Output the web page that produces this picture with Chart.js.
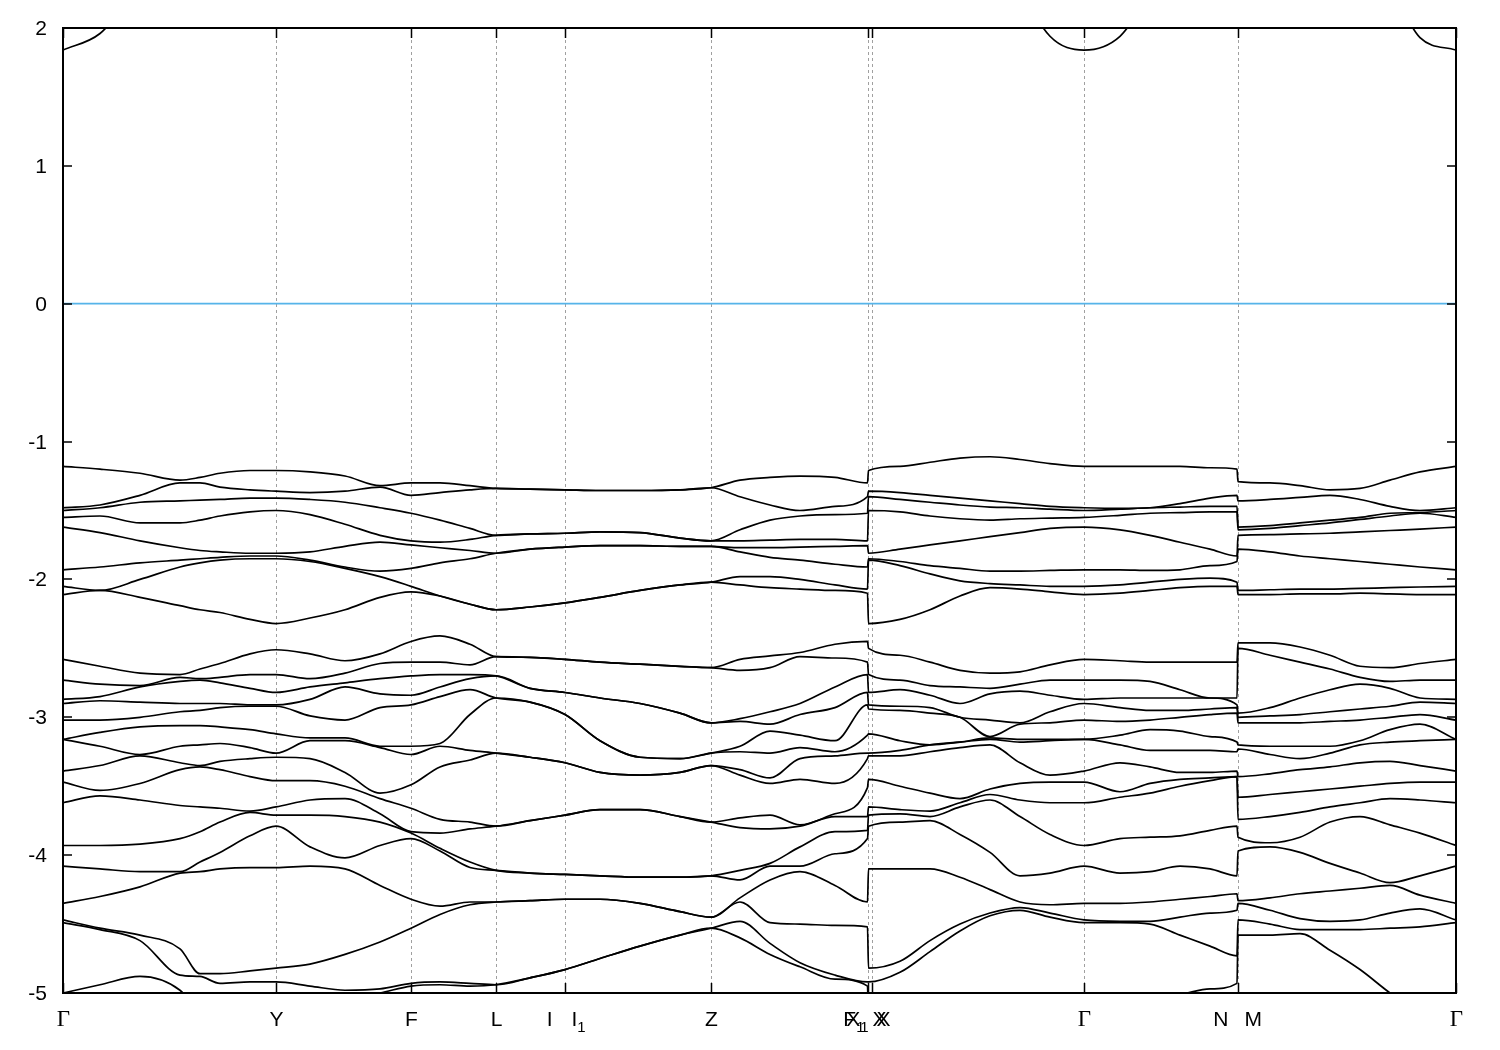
<!DOCTYPE html>
<html>
<head>
<meta charset="utf-8">
<script src="https://cdn.jsdelivr.net/npm/chart.js@4.4.1/dist/chart.umd.min.js"></script>
<style>
  html, body { margin: 0; background: #fff; }
  #wrap { width: 1500px; height: 1050px; }
</style>
</head>
<body>
<div id="wrap"><canvas id="bands"></canvas></div>
<script>
// k-path distance of every sampled point (segments: G-Y-F-L-I|I1-Z-F1, X-G-N, M-G)
const kPath = [
  0, 0.037, 0.077, 0.117, 0.137, 0.157, 0.187, 0.213, 0.247, 0.282, 0.317, 0.348, 0.377,
  0.407, 0.433, 0.467, 0.502, 0.537, 0.577, 0.617, 0.648, 0.677, 0.707, 0.737, 0.772, 0.8045,
  0.8055, 0.837, 0.867, 0.897, 0.927, 0.957, 0.987, 1.021, 1.057, 1.087, 1.117, 1.147, 1.174,
  1.175, 1.207, 1.237, 1.267, 1.297, 1.327, 1.357, 1.393
];
// high-symmetry points and their labels
const highSym = [0, 0.213, 0.348, 0.433, 0.502, 0.648, 0.805, 0.809, 1.021, 1.175, 1.393];
const symNames = ['Γ', 'Y', 'F', 'L', 'I|I1', 'Z', 'F1|X', 'X1|X', 'Γ', 'N|M', 'Γ'];
const yTicks = [2, 1, 0, -1, -2, -3, -4, -5];

// conduction band (eV)
const cond = [1.84, 1.96, 2.3, 2.6, 2.7, 2.8, 2.9, 2.9, 2.9, 2.9, 2.9, 2.9, 2.9, 2.9, 2.9, 2.9, 2.9, 2.9, 2.9, 2.9, 2.9, 2.9, 2.9, 2.9, 2.9, 2.9,
  2.9, 2.9, 2.9, 2.9, 2.8, 2.3, 1.94, 1.84, 1.94, 2.25, 2.6, 2.8, 2.9,
  2.9, 2.9, 2.9, 2.8, 2.6, 2.3, 1.93, 1.84];

// upper valence group
const vb1 = [-1.18,-1.20,-1.23,-1.28,-1.30,-1.33,-1.35,-1.36,-1.37,-1.36,-1.32,-1.30,-1.30,-1.32,-1.34,-1.345,-1.35,-1.355,-1.355,-1.35,-1.335,-1.28,-1.26,-1.25,-1.26,-1.30,
  -1.21,-1.18,-1.15,-1.12,-1.11,-1.13,-1.16,-1.18,-1.18,-1.18,-1.18,-1.19,-1.20,
  -1.29,-1.30,-1.32,-1.35,-1.34,-1.28,-1.22,-1.18];
const vb2 = [-1.55,-1.48,-1.39,-1.30,-1.26,-1.23,-1.21,-1.21,-1.22,-1.25,-1.33,-1.39,-1.37,-1.35,-1.34,-1.345,-1.35,-1.355,-1.355,-1.35,-1.335,-1.40,-1.46,-1.50,-1.47,-1.40,
  -1.36,-1.37,-1.39,-1.41,-1.43,-1.45,-1.47,-1.48,-1.485,-1.48,-1.45,-1.41,-1.39,
  -1.43,-1.42,-1.405,-1.39,-1.42,-1.47,-1.52,-1.55];
const vb3 = [-1.48,-1.46,-1.44,-1.43,-1.425,-1.42,-1.41,-1.41,-1.42,-1.44,-1.48,-1.52,-1.57,-1.63,-1.68,-1.67,-1.665,-1.655,-1.66,-1.70,-1.72,-1.64,-1.57,-1.54,-1.53,-1.52,
  -1.40,-1.42,-1.44,-1.46,-1.475,-1.48,-1.49,-1.50,-1.49,-1.48,-1.475,-1.47,-1.47,
  -1.62,-1.61,-1.59,-1.57,-1.55,-1.52,-1.50,-1.48];
const vb4 = [-1.50,-1.54,-1.59,-1.59,-1.57,-1.54,-1.51,-1.50,-1.53,-1.60,-1.68,-1.75,-1.77,-1.79,-1.81,-1.78,-1.765,-1.755,-1.755,-1.76,-1.76,-1.77,-1.77,-1.765,-1.76,-1.755,
  -1.50,-1.51,-1.54,-1.56,-1.57,-1.56,-1.555,-1.55,-1.535,-1.52,-1.515,-1.51,-1.51,
  -1.64,-1.63,-1.61,-1.59,-1.565,-1.54,-1.515,-1.50];
const vb5 = [-1.62,-1.66,-1.72,-1.77,-1.79,-1.80,-1.81,-1.81,-1.80,-1.76,-1.73,-1.72,-1.73,-1.71,-1.68,-1.67,-1.665,-1.655,-1.66,-1.70,-1.72,-1.72,-1.715,-1.71,-1.71,-1.72,
  -1.81,-1.78,-1.75,-1.72,-1.69,-1.66,-1.63,-1.62,-1.64,-1.68,-1.73,-1.78,-1.83,
  -1.68,-1.675,-1.67,-1.665,-1.655,-1.645,-1.635,-1.62];
const vb6 = [-1.93,-1.91,-1.88,-1.86,-1.85,-1.84,-1.83,-1.83,-1.87,-1.92,-1.94,-1.92,-1.88,-1.85,-1.81,-1.78,-1.765,-1.755,-1.755,-1.76,-1.76,-1.80,-1.84,-1.86,-1.89,-1.91,
  -1.85,-1.87,-1.90,-1.92,-1.94,-1.94,-1.935,-1.93,-1.93,-1.935,-1.93,-1.90,-1.87,
  -1.78,-1.80,-1.83,-1.85,-1.87,-1.89,-1.91,-1.93];
const vb7 = [-2.11,-2.08,-2.00,-1.91,-1.88,-1.86,-1.85,-1.85,-1.86,-1.91,-1.98,-2.05,-2.12,-2.18,-2.22,-2.20,-2.17,-2.13,-2.08,-2.04,-2.02,-1.98,-1.98,-2.00,-2.04,-2.07,
  -1.86,-1.90,-1.96,-2.01,-2.03,-2.04,-2.05,-2.05,-2.04,-2.02,-2.00,-1.99,-2.02,
  -2.08,-2.075,-2.07,-2.07,-2.065,-2.06,-2.055,-2.05];
const vb8 = [-2.05,-2.08,-2.13,-2.19,-2.22,-2.24,-2.29,-2.32,-2.28,-2.22,-2.13,-2.09,-2.12,-2.18,-2.22,-2.20,-2.17,-2.13,-2.08,-2.04,-2.02,-2.04,-2.06,-2.07,-2.08,-2.10,
  -2.32,-2.29,-2.22,-2.12,-2.06,-2.07,-2.09,-2.11,-2.10,-2.08,-2.06,-2.05,-2.05,
  -2.11,-2.11,-2.105,-2.105,-2.10,-2.105,-2.11,-2.11];

// lower valence group
const lb1 = [-2.90,-2.85,-2.78,-2.69,-2.65,-2.61,-2.54,-2.51,-2.54,-2.59,-2.54,-2.45,-2.41,-2.47,-2.56,-2.565,-2.58,-2.60,-2.615,-2.63,-2.64,-2.58,-2.555,-2.53,-2.47,-2.45,
  -2.50,-2.55,-2.60,-2.66,-2.68,-2.67,-2.62,-2.58,-2.59,-2.60,-2.60,-2.60,-2.60,
  -2.46,-2.46,-2.49,-2.55,-2.63,-2.64,-2.61,-2.58];
const lb2 = [-2.58,-2.63,-2.68,-2.71,-2.73,-2.75,-2.79,-2.82,-2.78,-2.68,-2.61,-2.60,-2.60,-2.62,-2.56,-2.565,-2.58,-2.60,-2.615,-2.63,-2.64,-2.66,-2.64,-2.56,-2.57,-2.60,
  -2.69,-2.73,-2.77,-2.78,-2.79,-2.81,-2.84,-2.87,-2.86,-2.86,-2.86,-2.86,-2.86,
  -2.50,-2.55,-2.60,-2.65,-2.71,-2.79,-2.86,-2.90];
const lb3 = [-2.73,-2.76,-2.77,-2.74,-2.72,-2.71,-2.69,-2.69,-2.72,-2.75,-2.83,-2.84,-2.69,-2.69,-2.70,-2.79,-2.82,-2.86,-2.90,-2.97,-3.04,-3.01,-2.96,-2.90,-2.78,-2.69,
  -2.82,-2.80,-2.84,-2.90,-2.83,-2.76,-2.73,-2.73,-2.73,-2.74,-2.80,-2.86,-2.93,
  -2.97,-2.93,-2.86,-2.80,-2.76,-2.74,-2.73,-2.73];
const lb4 = [-2.87,-2.88,-2.89,-2.90,-2.90,-2.90,-2.91,-2.91,-2.99,-3.02,-2.93,-2.91,-2.78,-2.72,-2.70,-2.79,-2.82,-2.86,-2.90,-2.97,-3.04,-3.03,-3.05,-2.98,-2.93,-2.82,
  -2.91,-2.92,-2.93,-3.00,-3.15,-3.33,-3.42,-3.39,-3.33,-3.36,-3.40,-3.40,-3.39,
  -3.00,-2.99,-2.98,-2.96,-2.94,-2.92,-2.89,-2.87];
const lb5 = [-3.02,-3.02,-3.00,-2.96,-2.95,-2.93,-2.92,-2.92,-2.87,-2.78,-2.72,-2.70,-2.85,-2.80,-2.86,-2.89,-2.98,-3.17,-3.29,-3.30,-3.26,-3.21,-3.10,-3.13,-3.17,-2.91,
  -3.12,-3.17,-3.20,-3.18,-3.14,-3.05,-2.96,-2.90,-2.93,-2.95,-2.95,-2.94,-2.91,
  -3.04,-3.04,-3.04,-3.03,-3.02,-3.00,-2.98,-3.02];
const lb6 = [-3.16,-3.11,-3.07,-3.06,-3.06,-3.07,-3.09,-3.12,-3.17,-3.15,-3.21,-3.21,-3.19,-2.98,-2.86,-2.89,-2.98,-3.17,-3.29,-3.30,-3.26,-3.25,-3.26,-3.22,-3.25,-3.13,
  -2.94,-2.95,-2.97,-3.00,-3.02,-3.04,-3.04,-3.02,-3.03,-3.02,-3.00,-2.98,-2.97,
  -3.20,-3.21,-3.21,-3.21,-3.20,-3.18,-3.17,-3.16];
const lb7 = [-3.16,-3.21,-3.28,-3.33,-3.36,-3.38,-3.43,-3.46,-3.46,-3.50,-3.59,-3.49,-3.21,-3.24,-3.26,-3.29,-3.33,-3.40,-3.42,-3.40,-3.35,-3.38,-3.44,-3.30,-3.28,-3.26,
  -3.28,-3.24,-3.20,-3.18,-3.16,-3.16,-3.16,-3.16,-3.13,-3.09,-3.10,-3.14,-3.18,
  -3.23,-3.27,-3.30,-3.26,-3.17,-3.09,-3.05,-3.16];
const lb8 = [-3.39,-3.35,-3.27,-3.21,-3.20,-3.19,-3.22,-3.26,-3.15,-3.17,-3.22,-3.27,-3.36,-3.31,-3.26,-3.29,-3.33,-3.40,-3.42,-3.40,-3.35,-3.42,-3.48,-3.45,-3.48,-3.30,
  -3.26,-3.28,-3.25,-3.22,-3.20,-3.18,-3.17,-3.16,-3.20,-3.24,-3.24,-3.24,-3.25,
  -3.43,-3.41,-3.38,-3.36,-3.33,-3.32,-3.35,-3.39];
const lb9 = [-3.62,-3.57,-3.48,-3.38,-3.35,-3.32,-3.30,-3.29,-3.30,-3.40,-3.55,-3.66,-3.74,-3.76,-3.79,-3.75,-3.71,-3.67,-3.67,-3.72,-3.76,-3.73,-3.71,-3.78,-3.70,-3.51,
  -3.45,-3.50,-3.55,-3.59,-3.52,-3.48,-3.47,-3.47,-3.54,-3.48,-3.45,-3.44,-3.43,
  -3.58,-3.56,-3.54,-3.52,-3.50,-3.48,-3.47,-3.47];
const lb10 = [-3.47,-3.53,-3.60,-3.64,-3.65,-3.66,-3.68,-3.71,-3.71,-3.72,-3.76,-3.83,-3.84,-3.81,-3.79,-3.75,-3.71,-3.67,-3.67,-3.72,-3.76,-3.80,-3.81,-3.79,-3.72,-3.72,
  -3.65,-3.67,-3.68,-3.62,-3.56,-3.60,-3.62,-3.62,-3.58,-3.55,-3.50,-3.46,-3.43,
  -3.74,-3.72,-3.69,-3.65,-3.62,-3.59,-3.60,-3.62];
const lb11 = [-3.93,-3.93,-3.92,-3.88,-3.83,-3.76,-3.69,-3.65,-3.60,-3.59,-3.70,-3.84,-3.95,-4.05,-4.11,-4.13,-4.14,-4.15,-4.16,-4.16,-4.15,-4.11,-4.06,-3.94,-3.83,-3.82,
  -3.79,-3.76,-3.72,-3.65,-3.60,-3.72,-3.85,-3.93,-3.88,-3.87,-3.86,-3.82,-3.79,
  -3.87,-3.91,-3.87,-3.76,-3.72,-3.78,-3.84,-3.93];
const lb12 = [-4.08,-4.10,-4.12,-4.13,-4.12,-4.10,-4.09,-4.09,-4.08,-4.02,-3.93,-3.88,-3.97,-4.09,-4.11,-4.13,-4.14,-4.15,-4.16,-4.16,-4.15,-4.18,-4.08,-4.08,-3.99,-3.88,
  -3.71,-3.70,-3.75,-3.85,-3.98,-4.15,-4.13,-4.08,-4.13,-4.12,-4.08,-4.10,-4.15,
  -3.97,-3.94,-3.98,-4.06,-4.13,-4.20,-4.15,-4.08];
const lb13 = [-4.35,-4.30,-4.23,-4.12,-4.05,-3.98,-3.86,-3.79,-3.94,-4.10,-4.22,-4.32,-4.37,-4.34,-4.34,-4.33,-4.32,-4.32,-4.35,-4.41,-4.45,-4.31,-4.18,-4.12,-4.22,-4.34,
  -4.82,-4.77,-4.62,-4.50,-4.42,-4.38,-4.36,-4.35,-4.35,-4.34,-4.32,-4.30,-4.28,
  -4.33,-4.31,-4.28,-4.26,-4.24,-4.22,-4.29,-4.35];
const lb14 = [-5.00,-4.94,-4.88,-4.87,-4.86,-4.86,-4.84,-4.82,-4.79,-4.72,-4.63,-4.53,-4.43,-4.36,-4.34,-4.33,-4.32,-4.32,-4.35,-4.41,-4.45,-4.34,-4.49,-4.50,-4.51,-4.52,
  -4.10,-4.10,-4.10,-4.16,-4.25,-4.34,-4.42,-4.47,-4.48,-4.50,-4.58,-4.66,-4.73,
  -4.35,-4.40,-4.46,-4.48,-4.47,-4.42,-4.39,-4.47];
const lb15 = [-4.47,-4.53,-4.58,-4.68,-4.88,-4.93,-4.92,-4.92,-4.95,-4.98,-4.97,-4.93,-4.92,-4.93,-4.94,-4.89,-4.83,-4.75,-4.66,-4.58,-4.53,-4.48,-4.64,-4.78,-4.87,-4.92,
  -4.92,-4.85,-4.70,-4.55,-4.44,-4.40,-4.45,-4.49,-4.49,-4.48,-4.45,-4.42,-4.40,
  -4.47,-4.50,-4.54,-4.54,-4.54,-4.53,-4.52,-4.49];
const lb16 = [-4.49,-4.54,-4.62,-4.98,-5.15,-5.30,-5.40,-5.40,-5.30,-5.05,-5.00,-4.95,-4.94,-4.95,-4.94,-4.89,-4.83,-4.75,-4.66,-4.58,-4.53,-4.60,-4.72,-4.81,-4.90,-4.95,
  -5.20,-5.15,-5.12,-5.10,-5.08,-5.05,-5.02,-5.00,-5.02,-5.03,-5.01,-4.97,-4.93,
  -4.58,-4.58,-4.57,-4.69,-4.83,-5.00,-5.15,-5.00];

// bands are energy-ordered at every k-point
const curves = [cond, vb1, vb2, vb3, vb4, vb5, vb6, vb7, vb8,
  lb1, lb2, lb3, lb4, lb5, lb6, lb7, lb8, lb9, lb10, lb11, lb12, lb13, lb14, lb15, lb16];
const bands = curves.map(() => []);
kPath.forEach((k, i) => {
  curves.map(c => c[i]).sort((a, b) => b - a).forEach((e, n) => bands[n].push({ x: k, y: e }));
});

const SANS = '"Liberation Sans", Arial, sans-serif';
const SERIF = '"Liberation Serif", "Times New Roman", serif';

function richText(ctx, parts, x, y, align) {
  let w = 0;
  parts.forEach(p => {
    p.font = p.sub ? '15px ' + SANS : (p.t === 'Γ' ? '23px ' + SERIF : '21px ' + SANS);
    ctx.font = p.font;
    p.w = ctx.measureText(p.t).width;
    w += p.w;
  });
  let cx = align === 'center' ? x - w / 2 : (align === 'right' ? x - w : x);
  ctx.textAlign = 'left';
  ctx.textBaseline = 'middle';
  parts.forEach(p => {
    ctx.font = p.font;
    ctx.fillText(p.t, cx, p.sub ? y + 8 : y);
    cx += p.w;
  });
}

function parse(s) {
  // "F1" -> F with subscript 1
  const m = s.match(/^(.*?)(\d)$/);
  return m ? [{ t: m[1] }, { t: m[2], sub: true }] : [{ t: s }];
}

const frame = {
  id: 'frame',
  beforeDatasetsDraw(chart) {
    const { ctx, chartArea: a, scales: { x } } = chart;
    ctx.save();
    ctx.strokeStyle = '#a0a0a0';
    ctx.lineWidth = 1;
    ctx.setLineDash([3, 3]);
    highSym.forEach(k => {
      const px = Math.round(x.getPixelForValue(k)) + 0.5;
      ctx.beginPath(); ctx.moveTo(px, a.top); ctx.lineTo(px, a.bottom); ctx.stroke();
    });
    ctx.restore();
  },
  afterDraw(chart) {
    const { ctx, chartArea: a, scales: { x, y } } = chart;
    ctx.save();
    ctx.strokeStyle = '#000';
    ctx.fillStyle = '#000';
    ctx.lineWidth = 2;
    ctx.strokeRect(a.left, a.top, a.right - a.left, a.bottom - a.top);
    ctx.lineWidth = 1.5;
    yTicks.forEach(v => {
      const py = Math.round(y.getPixelForValue(v));
      ctx.beginPath();
      ctx.moveTo(a.left, py); ctx.lineTo(a.left + 9, py);
      ctx.moveTo(a.right, py); ctx.lineTo(a.right - 9, py);
      ctx.stroke();
      ctx.font = '21px ' + SANS;
      ctx.textAlign = 'right';
      ctx.textBaseline = 'middle';
      ctx.fillText(String(v), a.left - 16, py + 1);
    });
    highSym.forEach((k, i) => {
      const px = Math.round(x.getPixelForValue(k)) + 0.5;
      ctx.beginPath();
      ctx.moveTo(px, a.bottom); ctx.lineTo(px, a.bottom - 10);
      ctx.moveTo(px, a.top); ctx.lineTo(px, a.top + 10);
      ctx.stroke();
      const ly = a.bottom + 27;
      const name = symNames[i];
      if (name.includes('|')) {
        const [l, r] = name.split('|');
        const edge = i === 6 || i === 7;
        const gapL = edge ? 4 : (i === 4 ? 13 : 10);
        const gapR = edge ? 4 : 6;
        richText(ctx, parse(l), px - gapL, ly, 'right');
        richText(ctx, parse(r), px + gapR, ly, 'left');
      } else {
        richText(ctx, parse(name), px, ly, 'center');
      }
    });
    ctx.restore();
  }
};

const datasets = bands.map(b => ({
  data: b,
  borderColor: '#000',
  borderWidth: 1.7,
  pointRadius: 0,
  fill: false,
  cubicInterpolationMode: 'monotone',
  clip: 0
}));
datasets.unshift({
  data: [{ x: 0, y: 0 }, { x: kPath[kPath.length - 1], y: 0 }],
  borderColor: '#56b4e9',
  borderWidth: 1.7,
  pointRadius: 0,
  fill: false,
  clip: 0
});

new Chart(document.getElementById('bands'), {
  type: 'line',
  data: { datasets },
  options: {
    responsive: true,
    maintainAspectRatio: false,
    animation: false,
    layout: { padding: { left: 63, right: 44, top: 28, bottom: 57 } },
    plugins: { legend: { display: false }, tooltip: { enabled: false } },
    scales: {
      x: { type: 'linear', min: 0, max: 1.393, display: false },
      y: { min: -5, max: 2, display: false }
    }
  },
  plugins: [frame]
});
</script>
</body>
</html>
